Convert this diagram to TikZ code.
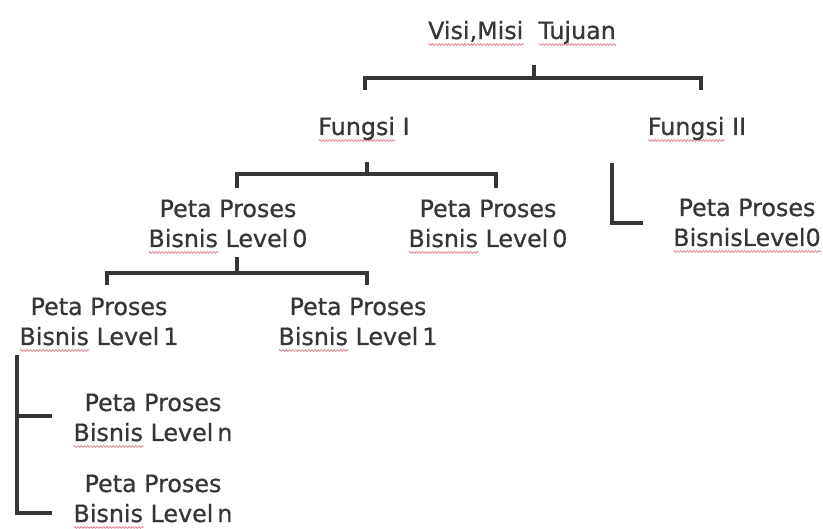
\documentclass[tikz,border=0pt]{standalone}
\usepackage{fontspec}
\setmainfont{DejaVu Sans}
\newfontfamily\chartfont{DejaVu Sans}[FakeBold=0.7]
\usetikzlibrary{decorations.pathmorphing}
\definecolor{ink}{HTML}{363636}
\definecolor{spellred}{HTML}{E07A8A}
% wavy spell-check underline
\newsavebox\spellbox
\newcommand\spellmark[1]{\sbox\spellbox{#1}%
  \rlap{\smash{\tikz[baseline=5.5pt]\draw[spellred, line width=0.7pt, decorate,
    decoration={snake, amplitude=0.9pt, segment length=3.2pt}] (0pt,0pt) -- (\wd\spellbox,0pt);}}%
  \usebox\spellbox}
\tikzset{
  nodetext/.style={font=\chartfont\fontsize{23.8}{30}\selectfont, text=ink, align=center, inner sep=0pt, anchor=base},
  bracket/.style={draw=ink, line width=3.2pt},
}

\begin{document}
\begin{tikzpicture}[x=1pt,y=-1pt] % <- pixel units, y going down
   % Page frame
   \useasboundingbox[fill=white] (0,0) rectangle (823,529);
   % Nodes (base = last line)
   \node[nodetext] (vmt) at (522,39) {\spellmark{Visi,Misi}\ \ \spellmark{Tujuan}};
   \node[nodetext] (f1) at (364,135) {\spellmark{Fungsi} I};
   \node[nodetext] (f2) at (697,135) {\spellmark{Fungsi} II};
   \node[nodetext] (l0a) at (228,247) {Peta Proses\\\spellmark{Bisnis} Level\,0};
   \node[nodetext] (l0b) at (488,247) {Peta Proses\\\spellmark{Bisnis} Level\,0};
   \node[nodetext] (l0c) at (747,246) {Peta Proses\\\spellmark{BisnisLevel0}};
   \node[nodetext] (l1a) at (99,345) {Peta Proses\\\spellmark{Bisnis} Level\,1};
   \node[nodetext] (l1b) at (358,345) {Peta Proses\\\spellmark{Bisnis} Level\,1};
   \node[nodetext] (lna) at (153,441) {Peta Proses\\\spellmark{Bisnis} Level\,n};
   \node[nodetext] (lnb) at (153,522) {Peta Proses\\\spellmark{Bisnis} Level\,n};
   % Visi,Misi Tujuan -> Fungsi I, Fungsi II
   \coordinate (s1) at (534,65);
   \coordinate (j1) at (534,78);
   \coordinate (e1a) at (365,90);
   \coordinate (e1b) at (701,90);
   \draw[bracket] (s1) -- (j1);
   \draw[bracket] (e1a) |- (j1) -| (e1b);
   % Fungsi I -> Level 0
   \coordinate (s2) at (367,162);
   \coordinate (j2) at (367,174);
   \coordinate (e2a) at (237,188);
   \coordinate (e2b) at (496,188);
   \draw[bracket] (s2) -- (j2);
   \draw[bracket] (e2a) |- (j2) -| (e2b);
   % Fungsi II -> Level 0
   \coordinate (s3) at (612,163);
   \coordinate (e3) at (643,223);
   \draw[bracket] (s3) |- (e3);
   % Level 0 -> Level 1
   \coordinate (s4) at (237,257);
   \coordinate (j4) at (237,273);
   \coordinate (e4a) at (107,285);
   \coordinate (e4b) at (367,285);
   \draw[bracket] (s4) -- (j4);
   \draw[bracket] (e4a) |- (j4) -| (e4b);
   % Level 1 -> Level n
   \coordinate (s5) at (17,355);
   \coordinate (e5a) at (52,416);
   \coordinate (e5b) at (52,513);
   \draw[bracket] (s5) |- (e5b);
   \draw[bracket] (s5 |- e5a) -- (e5a);
\end{tikzpicture}
\end{document}
